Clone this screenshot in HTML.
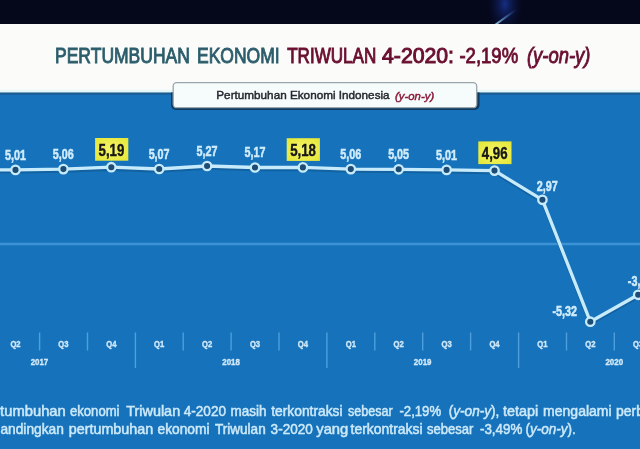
<!DOCTYPE html>
<html><head><meta charset="utf-8">
<style>
html,body{margin:0;padding:0;}
body{width:640px;height:449px;overflow:hidden;background:#1673bb;}
svg{display:block;font-family:"Liberation Sans",sans-serif;}
</style></head><body>
<svg width="640" height="449" viewBox="0 0 640 449">
<defs>
<radialGradient id="glow" cx="0.5" cy="0.5" r="0.5"><stop offset="0" stop-color="#1c3ca8" stop-opacity="0.75"/><stop offset="1" stop-color="#0a1040" stop-opacity="0"/></radialGradient>
<linearGradient id="streak" x1="495" y1="25" x2="517" y2="9" gradientUnits="userSpaceOnUse"><stop offset="0" stop-color="#a8dcf4" stop-opacity="0.9"/><stop offset="0.5" stop-color="#5a8cd0" stop-opacity="0.6"/><stop offset="1" stop-color="#3050b0" stop-opacity="0"/></linearGradient>
<radialGradient id="yel" cx="0.5" cy="0.5" r="0.7"><stop offset="0" stop-color="#f6f66a"/><stop offset="1" stop-color="#e4e636"/></radialGradient>
<linearGradient id="edge" x1="0" y1="0" x2="0" y2="1"><stop offset="0" stop-color="#2a6a98"/><stop offset="0.45" stop-color="#15598f"/><stop offset="1" stop-color="#1673bb"/></linearGradient>
<filter id="soft" x="-5%" y="-5%" width="110%" height="110%"><feGaussianBlur stdDeviation="0.55"/></filter>
</defs>
<rect x="0" y="0" width="640" height="449" fill="#1673bb"/>
<rect x="0" y="0" width="640" height="24" fill="#05081b"/>
<ellipse cx="505" cy="4" rx="18" ry="30" fill="url(#glow)"/>
<line x1="495" y1="25" x2="517" y2="9" stroke="url(#streak)" stroke-width="2"/>
<rect x="0" y="24" width="640" height="69" fill="#fbfbf9"/>
<rect x="0" y="89.8" width="640" height="2.6" fill="#e4f8fb"/>
<rect x="0" y="92.4" width="640" height="3.2" fill="url(#edge)"/>
<g filter="url(#soft)">

<text transform="translate(55.00,63.00) scale(0.7965,1)" font-size="22" font-weight="normal" font-style="normal" fill="#2c5d6c" stroke="#2c5d6c" stroke-width="0.95">PERTUMBUHAN</text>
<text transform="translate(197.00,63.00) scale(0.7958,1)" font-size="22" font-weight="normal" font-style="normal" fill="#2c5d6c" stroke="#2c5d6c" stroke-width="0.95">EKONOMI</text>
<text transform="translate(287.20,63.00) scale(0.7754,1)" font-size="22" font-weight="normal" font-style="normal" fill="#6a1030" stroke="#6a1030" stroke-width="1.0">TRIWULAN</text>
<text transform="translate(382.00,63.00) scale(0.9659,1)" font-size="22" font-weight="normal" font-style="normal" fill="#6a1030" stroke="#6a1030" stroke-width="1.0">4-2020:</text>
<text transform="translate(459.40,63.00) scale(0.8432,1)" font-size="22" font-weight="normal" font-style="normal" fill="#6a1030" stroke="#6a1030" stroke-width="0.9">-2,19%</text>
<text transform="translate(526.96,63.00) scale(0.8382,1)" font-size="22" font-weight="normal" font-style="italic" fill="#6a1030" stroke="#6a1030" stroke-width="0.9">(y-on-y)</text>
<clipPath id="below"><rect x="0" y="92.5" width="640" height="40"/></clipPath>
<rect x="171" y="81" width="308.5" height="29" rx="5" fill="#0b2f52" opacity="0.85" clip-path="url(#below)"/>
<rect x="173.2" y="82.7" width="303.5" height="25" rx="3.5" fill="#f6fbfc" stroke="#9aa6ac" stroke-width="1.3"/>
<text transform="translate(216.30,99.00) scale(1.0196,1)" font-size="11.5" font-weight="normal" font-style="normal" fill="#26282e" stroke="#26282e" stroke-width="0.45">Pertumbuhan Ekonomi Indonesia</text>
<text transform="translate(395.00,99.50) scale(0.9904,1)" font-size="11.5" font-weight="normal" font-style="italic" fill="#8a1836" stroke="#8a1836" stroke-width="0.45">(y-on-y)</text>
<rect x="0" y="242.7" width="640" height="2.6" fill="#3c92d4"/>
<rect x="38.9" y="332.5" width="1.4" height="18" fill="#62aee6" opacity="0.75"/>
<rect x="86.8" y="332.5" width="1.4" height="18" fill="#62aee6" opacity="0.75"/>
<rect x="134.7" y="332.5" width="1.4" height="35.5" fill="#62aee6" opacity="0.75"/>
<rect x="182.5" y="332.5" width="1.4" height="18" fill="#62aee6" opacity="0.75"/>
<rect x="230.4" y="332.5" width="1.4" height="18" fill="#62aee6" opacity="0.75"/>
<rect x="278.3" y="332.5" width="1.4" height="18" fill="#62aee6" opacity="0.75"/>
<rect x="326.2" y="332.5" width="1.4" height="35.5" fill="#62aee6" opacity="0.75"/>
<rect x="374.1" y="332.5" width="1.4" height="18" fill="#62aee6" opacity="0.75"/>
<rect x="422.0" y="332.5" width="1.4" height="18" fill="#62aee6" opacity="0.75"/>
<rect x="469.9" y="332.5" width="1.4" height="18" fill="#62aee6" opacity="0.75"/>
<rect x="517.9" y="332.5" width="1.4" height="35.5" fill="#62aee6" opacity="0.75"/>
<rect x="565.8" y="332.5" width="1.4" height="18" fill="#62aee6" opacity="0.75"/>
<rect x="613.6" y="332.5" width="1.4" height="18" fill="#62aee6" opacity="0.75"/>
<rect x="661.5" y="332.5" width="1.4" height="18" fill="#62aee6" opacity="0.75"/>
<polyline points="-32.4,172.1 15.5,172.1 63.4,171.3 111.3,169.4 159.2,171.2 207.1,168.2 255.0,169.7 302.9,169.6 350.8,171.3 398.7,171.5 446.6,172.1 494.5,172.8 542.4,202.0 590.3,323.9 638.2,297.0 686.1,277.9" fill="none" stroke="#135a94" stroke-width="3" stroke-linejoin="round" opacity="0.7"/>
<polyline points="-32.4,169.9 15.5,169.9 63.4,169.1 111.3,167.2 159.2,169.0 207.1,166.0 255.0,167.5 302.9,167.4 350.8,169.1 398.7,169.3 446.6,169.9 494.5,170.6 542.4,199.8 590.3,321.7 638.2,294.8 686.1,275.7" fill="none" stroke="#c8ebfb" stroke-width="3.3" stroke-linejoin="round"/>
<circle cx="15.5" cy="169.9" r="4.2" fill="#1a4c74" stroke="#c8ebfb" stroke-width="2.3"/>
<circle cx="63.4" cy="169.1" r="4.2" fill="#1a4c74" stroke="#c8ebfb" stroke-width="2.3"/>
<circle cx="111.3" cy="167.2" r="4.2" fill="#1a4c74" stroke="#c8ebfb" stroke-width="2.3"/>
<circle cx="159.2" cy="169.0" r="4.2" fill="#1a4c74" stroke="#c8ebfb" stroke-width="2.3"/>
<circle cx="207.1" cy="166.0" r="4.2" fill="#1a4c74" stroke="#c8ebfb" stroke-width="2.3"/>
<circle cx="255.0" cy="167.5" r="4.2" fill="#1a4c74" stroke="#c8ebfb" stroke-width="2.3"/>
<circle cx="302.9" cy="167.4" r="4.2" fill="#1a4c74" stroke="#c8ebfb" stroke-width="2.3"/>
<circle cx="350.8" cy="169.1" r="4.2" fill="#1a4c74" stroke="#c8ebfb" stroke-width="2.3"/>
<circle cx="398.7" cy="169.3" r="4.2" fill="#1a4c74" stroke="#c8ebfb" stroke-width="2.3"/>
<circle cx="446.6" cy="169.9" r="4.2" fill="#1a4c74" stroke="#c8ebfb" stroke-width="2.3"/>
<circle cx="494.5" cy="170.6" r="4.2" fill="#1a4c74" stroke="#c8ebfb" stroke-width="2.3"/>
<circle cx="542.4" cy="199.8" r="4.2" fill="#1a4c74" stroke="#c8ebfb" stroke-width="2.3"/>
<circle cx="590.3" cy="321.7" r="4.2" fill="#1a4c74" stroke="#c8ebfb" stroke-width="2.3"/>
<circle cx="638.2" cy="294.8" r="4.2" fill="#1a4c74" stroke="#c8ebfb" stroke-width="2.3"/>
<text transform="translate(4.93,159.56) scale(0.7700,1)" font-size="14" font-weight="bold" font-style="normal" fill="#d0ecfb" stroke="#d0ecfb" stroke-width="0.5">5,01</text>
<text transform="translate(52.83,158.83) scale(0.7700,1)" font-size="14" font-weight="bold" font-style="normal" fill="#d0ecfb" stroke="#d0ecfb" stroke-width="0.5">5,06</text>
<rect x="95.1" y="138.0" width="33.2" height="22.7" fill="url(#yel)"/>
<text transform="translate(98.57,155.69) scale(0.7800,1)" font-size="17" font-weight="bold" font-style="normal" fill="#141414" stroke="#141414" stroke-width="0.4">5,19</text>
<text transform="translate(148.63,158.68) scale(0.7700,1)" font-size="14" font-weight="bold" font-style="normal" fill="#d0ecfb" stroke="#d0ecfb" stroke-width="0.5">5,07</text>
<text transform="translate(196.53,155.74) scale(0.7700,1)" font-size="14" font-weight="bold" font-style="normal" fill="#d0ecfb" stroke="#d0ecfb" stroke-width="0.5">5,27</text>
<text transform="translate(244.43,157.21) scale(0.7700,1)" font-size="14" font-weight="bold" font-style="normal" fill="#d0ecfb" stroke="#d0ecfb" stroke-width="0.5">5,17</text>
<rect x="286.7" y="138.2" width="33.2" height="22.7" fill="url(#yel)"/>
<text transform="translate(290.17,155.84) scale(0.7800,1)" font-size="17" font-weight="bold" font-style="normal" fill="#141414" stroke="#141414" stroke-width="0.4">5,18</text>
<text transform="translate(340.23,158.83) scale(0.7700,1)" font-size="14" font-weight="bold" font-style="normal" fill="#d0ecfb" stroke="#d0ecfb" stroke-width="0.5">5,06</text>
<text transform="translate(388.13,158.98) scale(0.7700,1)" font-size="14" font-weight="bold" font-style="normal" fill="#d0ecfb" stroke="#d0ecfb" stroke-width="0.5">5,05</text>
<text transform="translate(436.03,159.56) scale(0.7700,1)" font-size="14" font-weight="bold" font-style="normal" fill="#d0ecfb" stroke="#d0ecfb" stroke-width="0.5">5,01</text>
<rect x="478.3" y="141.4" width="33.2" height="22.7" fill="url(#yel)"/>
<text transform="translate(481.77,159.07) scale(0.7800,1)" font-size="17" font-weight="bold" font-style="normal" fill="#141414" stroke="#141414" stroke-width="0.4">4,96</text>
<text transform="translate(536.83,191.35) scale(0.7700,1)" font-size="14" font-weight="bold" font-style="normal" fill="#d0ecfb" stroke="#d0ecfb" stroke-width="0.5">2,97</text>
<text transform="translate(552.43,316.22) scale(0.7700,1)" font-size="14" font-weight="bold" font-style="normal" fill="#d0ecfb" stroke="#d0ecfb" stroke-width="0.5">-5,32</text>
<text transform="translate(627.83,285.81) scale(0.7700,1)" font-size="14" font-weight="bold" font-style="normal" fill="#d0ecfb" stroke="#d0ecfb" stroke-width="0.5">-3,49</text>
<text transform="translate(10.40,346.92) scale(0.8500,1)" font-size="9" font-weight="bold" font-style="normal" fill="#d0e8f8" stroke="#d0e8f8" stroke-width="0.35">Q2</text>
<text transform="translate(58.30,346.92) scale(0.8500,1)" font-size="9" font-weight="bold" font-style="normal" fill="#d0e8f8" stroke="#d0e8f8" stroke-width="0.35">Q3</text>
<text transform="translate(106.20,346.92) scale(0.8500,1)" font-size="9" font-weight="bold" font-style="normal" fill="#d0e8f8" stroke="#d0e8f8" stroke-width="0.35">Q4</text>
<text transform="translate(154.10,346.92) scale(0.8500,1)" font-size="9" font-weight="bold" font-style="normal" fill="#d0e8f8" stroke="#d0e8f8" stroke-width="0.35">Q1</text>
<text transform="translate(202.00,346.92) scale(0.8500,1)" font-size="9" font-weight="bold" font-style="normal" fill="#d0e8f8" stroke="#d0e8f8" stroke-width="0.35">Q2</text>
<text transform="translate(249.90,346.92) scale(0.8500,1)" font-size="9" font-weight="bold" font-style="normal" fill="#d0e8f8" stroke="#d0e8f8" stroke-width="0.35">Q3</text>
<text transform="translate(297.80,346.92) scale(0.8500,1)" font-size="9" font-weight="bold" font-style="normal" fill="#d0e8f8" stroke="#d0e8f8" stroke-width="0.35">Q4</text>
<text transform="translate(345.70,346.92) scale(0.8500,1)" font-size="9" font-weight="bold" font-style="normal" fill="#d0e8f8" stroke="#d0e8f8" stroke-width="0.35">Q1</text>
<text transform="translate(393.60,346.92) scale(0.8500,1)" font-size="9" font-weight="bold" font-style="normal" fill="#d0e8f8" stroke="#d0e8f8" stroke-width="0.35">Q2</text>
<text transform="translate(441.50,346.92) scale(0.8500,1)" font-size="9" font-weight="bold" font-style="normal" fill="#d0e8f8" stroke="#d0e8f8" stroke-width="0.35">Q3</text>
<text transform="translate(489.40,346.92) scale(0.8500,1)" font-size="9" font-weight="bold" font-style="normal" fill="#d0e8f8" stroke="#d0e8f8" stroke-width="0.35">Q4</text>
<text transform="translate(537.30,346.92) scale(0.8500,1)" font-size="9" font-weight="bold" font-style="normal" fill="#d0e8f8" stroke="#d0e8f8" stroke-width="0.35">Q1</text>
<text transform="translate(585.20,346.92) scale(0.8500,1)" font-size="9" font-weight="bold" font-style="normal" fill="#d0e8f8" stroke="#d0e8f8" stroke-width="0.35">Q2</text>
<text transform="translate(633.10,346.92) scale(0.8500,1)" font-size="9" font-weight="bold" font-style="normal" fill="#d0e8f8" stroke="#d0e8f8" stroke-width="0.35">Q3</text>
<text transform="translate(30.64,364.72) scale(0.8800,1)" font-size="9" font-weight="bold" font-style="normal" fill="#d0e8f8" stroke="#d0e8f8" stroke-width="0.35">2017</text>
<text transform="translate(222.24,364.72) scale(0.8800,1)" font-size="9" font-weight="bold" font-style="normal" fill="#d0e8f8" stroke="#d0e8f8" stroke-width="0.35">2018</text>
<text transform="translate(413.84,364.72) scale(0.8800,1)" font-size="9" font-weight="bold" font-style="normal" fill="#d0e8f8" stroke="#d0e8f8" stroke-width="0.35">2019</text>
<text transform="translate(605.44,364.72) scale(0.8800,1)" font-size="9" font-weight="bold" font-style="normal" fill="#d0e8f8" stroke="#d0e8f8" stroke-width="0.35">2020</text>
<text transform="translate(-4.80,415.5) scale(1.0553,1)" font-size="14" fill="#cce9f9" stroke="#cce9f9" stroke-width="0.5">rtumbuhan</text>
<text transform="translate(70.00,415.5) scale(0.9355,1)" font-size="14" fill="#cce9f9" stroke="#cce9f9" stroke-width="0.5">ekonomi</text>
<text transform="translate(126.20,415.5) scale(1.0311,1)" font-size="14" fill="#cce9f9" stroke="#cce9f9" stroke-width="0.5">Triwulan</text>
<text transform="translate(183.75,415.5) scale(0.9702,1)" font-size="14" fill="#cce9f9" stroke="#cce9f9" stroke-width="0.5">4-2020</text>
<text transform="translate(230.60,415.5) scale(0.9628,1)" font-size="14" fill="#cce9f9" stroke="#cce9f9" stroke-width="0.5">masih</text>
<text transform="translate(271.25,415.5) scale(0.9862,1)" font-size="14" fill="#cce9f9" stroke="#cce9f9" stroke-width="0.5">terkontraksi</text>
<text transform="translate(348.10,415.5) scale(0.8954,1)" font-size="14" fill="#cce9f9" stroke="#cce9f9" stroke-width="0.5">sebesar</text>
<text transform="translate(399.40,415.5) scale(0.9428,1)" font-size="14" fill="#cce9f9" stroke="#cce9f9" stroke-width="0.5">-2,19%</text>
<text transform="translate(448.75,415.5) scale(0.9713,1)" font-size="14" fill="#cce9f9" stroke="#cce9f9" stroke-width="0.5">(<tspan font-style="italic">y-on-y</tspan>),</text>
<text transform="translate(503.10,415.5) scale(1.0282,1)" font-size="14" fill="#cce9f9" stroke="#cce9f9" stroke-width="0.5">tetapi</text>
<text transform="translate(543.10,415.5) scale(1.0005,1)" font-size="14" fill="#cce9f9" stroke="#cce9f9" stroke-width="0.5">mengalami</text>
<text transform="translate(616.00,415.5) scale(1.0000,1)" font-size="14" fill="#cce9f9" stroke="#cce9f9" stroke-width="0.5">perbaikan</text>
<text transform="translate(-7.20,433.5) scale(0.9817,1)" font-size="14" fill="#cce9f9" stroke="#cce9f9" stroke-width="0.5">bandingkan</text>
<text transform="translate(68.75,433.5) scale(1.0249,1)" font-size="14" fill="#cce9f9" stroke="#cce9f9" stroke-width="0.5">pertumbuhan</text>
<text transform="translate(157.50,433.5) scale(0.9828,1)" font-size="14" fill="#cce9f9" stroke="#cce9f9" stroke-width="0.5">ekonomi</text>
<text transform="translate(215.00,433.5) scale(0.9690,1)" font-size="14" fill="#cce9f9" stroke="#cce9f9" stroke-width="0.5">Triwulan</text>
<text transform="translate(270.60,433.5) scale(0.9679,1)" font-size="14" fill="#cce9f9" stroke="#cce9f9" stroke-width="0.5">3-2020</text>
<text transform="translate(316.25,433.5) scale(1.0567,1)" font-size="14" fill="#cce9f9" stroke="#cce9f9" stroke-width="0.5">yang</text>
<text transform="translate(350.60,433.5) scale(0.9952,1)" font-size="14" fill="#cce9f9" stroke="#cce9f9" stroke-width="0.5">terkontraksi</text>
<text transform="translate(426.90,433.5) scale(0.9343,1)" font-size="14" fill="#cce9f9" stroke="#cce9f9" stroke-width="0.5">sebesar</text>
<text transform="translate(480.00,433.5) scale(0.9542,1)" font-size="14" fill="#cce9f9" stroke="#cce9f9" stroke-width="0.5">-3,49%</text>
<text transform="translate(525.60,433.5) scale(0.9645,1)" font-size="14" fill="#cce9f9" stroke="#cce9f9" stroke-width="0.5">(<tspan font-style="italic">y-on-y</tspan>).</text>
</g></svg></body></html>
